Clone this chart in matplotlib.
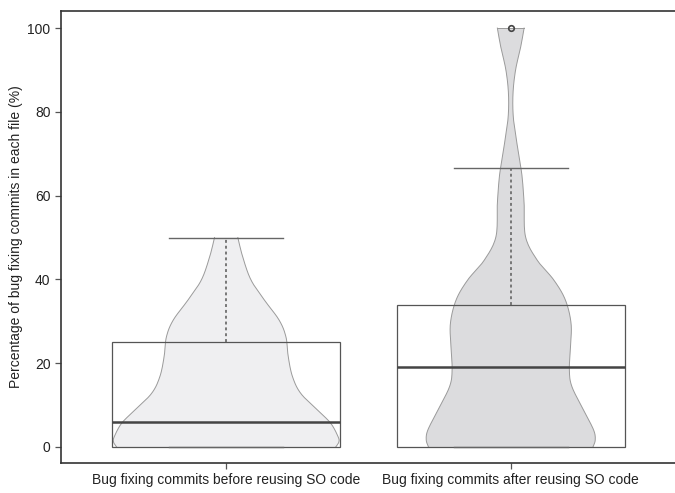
import numpy as np
import matplotlib
matplotlib.use("Agg")
import matplotlib.pyplot as plt
from matplotlib.patches import Rectangle

plt.rcParams['font.family'] = ['Liberation Sans', 'DejaVu Sans']

# ---- data ----
categories = ["Bug fixing commits before reusing SO code",
              "Bug fixing commits after reusing SO code"]
positions = [1.0, 2.0]

# box statistics (percent)
q1 = [0.0, 0.0]
median = [6.0, 19.1]
q3 = [25.0, 34.0]
whisker_low = [0.0, 0.0]
whisker_high = [50.0, 66.7]
outliers = [[], [100.0]]

# violin outlines: y levels (percent) and half-widths (x-axis units)
before_y = [0, 1.2, 2.5, 5.7, 8.8, 12.8, 16.8, 21.6, 26.3, 30.3, 35.1, 39.9, 45.4, 50.0]
before_w = [0.385, 0.396, 0.393, 0.367, 0.321, 0.262, 0.233, 0.218, 0.210, 0.186, 0.134, 0.087, 0.058, 0.041]
after_y = [0, 1.7, 4.1, 8.8, 14.4, 18.4, 23.9, 29.5, 35.1, 39.9, 44.6, 50.2, 58.2, 64.5,
           68.5, 73.3, 78.8, 84.4, 90.0, 95.5, 100.0]
after_w = [0.289, 0.297, 0.291, 0.256, 0.215, 0.206, 0.210, 0.212, 0.192, 0.151, 0.093, 0.052,
           0.047, 0.040, 0.031, 0.020, 0.009, 0.008, 0.017, 0.035, 0.047]
violin_y = [before_y, after_y]
violin_w = [before_w, after_w]
violin_colors = ["#efeff1", "#dcdcde"]

yticks = [0, 20, 40, 60, 80, 100]


def catmull_rom(y, w, n=12):
    y = np.asarray(y, float)
    w = np.asarray(w, float)
    P = np.column_stack([y, w])
    P = np.vstack([P[0], P, P[-1]])
    out = []
    for i in range(1, len(P) - 2):
        p0, p1, p2, p3 = P[i - 1], P[i], P[i + 1], P[i + 2]
        t = np.linspace(0, 1, n, endpoint=False)[:, None]
        seg = 0.5 * ((2 * p1) + (-p0 + p2) * t + (2 * p0 - 5 * p1 + 4 * p2 - p3) * t ** 2
                     + (-p0 + 3 * p1 - 3 * p2 + p3) * t ** 3)
        out.append(seg)
    out.append(P[-2][None, :])
    s = np.vstack(out)
    return s[:, 0], s[:, 1]


fig = plt.figure(figsize=(6.75, 4.93), dpi=100)
ax = fig.add_axes([0.0904, 0.0609, 0.9196, 0.9787 - 0.0609])

box_w = 0.80
cap_w = 0.40
edge_c = "#9a9a9a"
for i, pos in enumerate(positions):
    yy, ww = catmull_rom(violin_y[i], violin_w[i])
    ax.fill_betweenx(yy, pos - ww, pos + ww, facecolor=violin_colors[i],
                     edgecolor="none", zorder=1)
    ax.plot(pos - ww, yy, color=edge_c, lw=0.7, zorder=2)
    ax.plot(pos + ww, yy, color=edge_c, lw=0.7, zorder=2)
    ax.plot([pos - ww[-1], pos + ww[-1]], [yy[-1], yy[-1]], color=edge_c, lw=0.7, zorder=2)
    # box
    ax.add_patch(Rectangle((pos - box_w / 2, q1[i]), box_w, q3[i] - q1[i],
                           facecolor="none", edgecolor="#555555", lw=0.9, zorder=3))
    ax.plot([pos - box_w / 2, pos + box_w / 2], [median[i]] * 2, color="#444444",
            lw=1.8, zorder=4, solid_capstyle="butt")
    # whiskers
    ax.plot([pos, pos], [q3[i], whisker_high[i]], color="#777777", lw=1.4,
            ls=(0, (1.5, 1.5)), zorder=3)
    ax.plot([pos, pos], [q1[i], whisker_low[i]], color="#777777", lw=1.4,
            ls=(0, (1.5, 1.5)), zorder=3)
    ax.plot([pos - cap_w / 2, pos + cap_w / 2], [whisker_high[i]] * 2, color="#666666",
            lw=1.0, zorder=3)
    ax.plot([pos - cap_w / 2, pos + cap_w / 2], [whisker_low[i]] * 2, color="#666666",
            lw=1.0, zorder=3)
    if outliers[i]:
        ax.plot([pos] * len(outliers[i]), outliers[i], "o", ms=4, mfc="none",
                mec="#444444", mew=1.2, zorder=5)

ax.set_xlim(0.4196, 2.566 + 0.035)
ax.set_ylim(-3.82, 104.2)
ax.set_xticks(positions)
ax.set_xticklabels(categories, fontsize=10, color="#222222")
ax.set_yticks(yticks)
ax.set_yticklabels([str(v) for v in yticks], fontsize=10, color="#222222")
ax.set_ylabel("Percentage of bug fixing commits in each file (%)", fontsize=10,
              color="#222222", labelpad=3)
ax.tick_params(axis="both", direction="out", length=4.5, width=0.9, color="#555555", pad=3)
for side in ["left", "bottom", "top"]:
    ax.spines[side].set_color("#333333")
    ax.spines[side].set_linewidth(1.2)
ax.spines["right"].set_visible(False)

fig.savefig("out.png", dpi=100)
